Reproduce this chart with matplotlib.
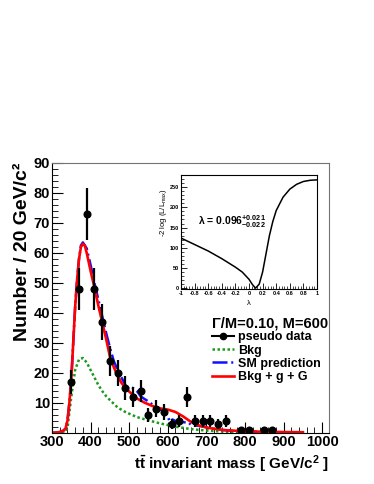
import matplotlib
matplotlib.use('Agg')
import matplotlib.pyplot as plt
from matplotlib.lines import Line2D
import numpy as np

plt.rcParams['font.family'] = ['Liberation Sans', 'DejaVu Sans']
plt.rcParams['mathtext.fontset'] = 'custom'
plt.rcParams['mathtext.rm'] = 'Liberation Sans'
plt.rcParams['mathtext.bf'] = 'Liberation Sans:bold'
plt.rcParams['mathtext.it'] = 'Liberation Sans:italic'

# pseudo data (20 GeV bins)
data_mass = [350, 370, 390, 410, 430, 450, 470, 490, 510, 530, 550, 570, 590,
             610, 630, 650, 670, 690, 710, 730, 750, 790, 810, 850, 870]
data_count = [17, 48, 73, 48, 37, 24, 20, 15, 12, 14, 6, 8, 7,
              3, 4, 12, 4, 4, 4, 3, 4, 1, 1, 1, 1]

# Bkg + g + G (red)
sig_mass = [300, 320, 330, 335, 340, 345, 350, 355, 360, 365, 370, 375, 380, 385, 390,
            400, 410, 420, 430, 440, 450, 460, 470, 480, 490, 500, 520, 540, 560, 580,
            600, 620, 640, 660, 680, 700, 720, 740, 760, 800, 850, 900, 950]
sig_val = [0.0, 0.3, 0.8, 1.5, 4, 10, 18, 30, 42, 51, 58, 62, 63, 62.5, 60,
           54, 48.5, 42.5, 37, 31.5, 25.5, 22, 19, 16.7, 15, 13.8, 11.5, 10.1, 9, 8.2,
           7.8, 7.0, 5.5, 3.7, 2.5, 1.8, 1.4, 1.05, 0.85, 0.6, 0.4, 0.3, 0.25]

# SM prediction (blue)
sm_mass = [300, 320, 330, 335, 340, 345, 350, 355, 360, 365, 370, 375, 380, 390,
           400, 410, 420, 430, 440, 450, 460, 470, 480, 490, 495, 500, 510, 520, 530,
           540, 550, 560, 570, 580, 590, 600, 605, 612, 620, 640, 655, 660, 680, 700,
           705, 730, 740, 760, 800, 850, 900, 950]
sm_val = [0.0, 0.3, 0.8, 1.5, 4, 10, 18, 30, 42, 51, 58, 62.5, 63.5, 61.5,
          56, 50, 44.5, 39, 33.5, 28.5, 24, 21, 18.5, 16, 14.8, 15.5, 15, 14, 12.2,
          11.3, 10.5, 9.5, 8.5, 7.8, 7.5, 5.5, 3.8, 4.5, 4.0, 3.6, 3.4, 2.6, 2.4, 2.0,
          1.5, 1.4, 1.0, 0.8, 0.5, 0.35, 0.25, 0.2]

# Bkg (green)
bkg_mass = [300, 330, 340, 350, 360, 370, 380, 390, 400, 410, 420, 430, 440, 450,
            470, 490, 520, 550, 580, 620, 660, 700, 750, 800, 850, 900, 950]
bkg_val = [0, 0, 1.5, 12, 21, 24.5, 25, 23.5, 21, 18.5, 16, 14, 12.3, 11,
           8.5, 7, 5.3, 4.2, 3.2, 2.1, 1.3, 0.8, 0.4, 0.2, 0.1, 0.05, 0.0]

# likelihood scan (inset)
lam = [-1, -0.8, -0.6, -0.4, -0.2, -0.1, 0, 0.05, 0.096, 0.15, 0.2, 0.25, 0.3,
       0.35, 0.4, 0.5, 0.6, 0.7, 0.8, 0.9, 1.0]
nll = [124, 108, 92, 73, 52, 40, 22, 9, 0, 10, 40, 85, 130,
       165, 192, 225, 245, 257, 264, 267, 268]

x_ticks = [300, 400, 500, 600, 700, 800, 900, 1000]
y_ticks = [10, 20, 30, 40, 50, 60, 70, 80, 90]
inset_xticks = [-1, -0.8, -0.6, -0.4, -0.2, 0, 0.2, 0.4, 0.6, 0.8, 1]
inset_xlabels = ['-1', '-0.8', '-0.6', '-0.4', '-0.2', '0', '0.2', '0.4', '0.6', '0.8', '1']
inset_yticks = [0, 50, 100, 150, 200, 250]

fig = plt.figure(figsize=(3.74, 4.84), dpi=100)
ax = fig.add_axes([0.139, 0.1054, 0.741, 0.558])

l_bkg, = ax.plot(bkg_mass, bkg_val, color='#1a9a1a', lw=1.8, ls=(0, (1, 1)))
l_sm, = ax.plot(sm_mass, sm_val, color='#1010ff', lw=1.8, ls=(0, (6, 1.5, 0.8, 1.5)))
l_sig, = ax.plot(sig_mass, sig_val, color='#ff0000', lw=1.9)
ax.errorbar(data_mass, data_count, yerr=np.sqrt(data_count), xerr=7, fmt='o',
            color='black', ms=4.8, elinewidth=1.6, capsize=0, zorder=5)

ax.set_xlim(300, 1018)
ax.set_ylim(0, 90)
ax.set_xticks(x_ticks)
ax.set_xticks(np.arange(300, 1020, 20), minor=True)
ax.set_yticks(y_ticks)
ax.set_yticks(np.arange(0, 91, 2), minor=True)
ax.tick_params(which='both', direction='in', top=False, right=False)
ax.tick_params(which='major', length=8, width=0.8, labelsize=10.5, pad=1.5)
ax.tick_params(which='minor', length=4, width=0.6)
for lab in ax.get_xticklabels() + ax.get_yticklabels():
    lab.set_fontweight('bold')
for s in ['top', 'right']:
    ax.spines[s].set_color('0.45')

ax.set_ylabel('Number / 20 GeV/c²', fontsize=14, fontweight='bold', loc='top')
ax.yaxis.set_label_coords(-0.075, 1.0)
ax.set_xlabel(r'$\mathbf{t\bar{t}}$ invariant mass [ GeV/c$^\mathbf{2}$ ]',
              fontsize=11, fontweight='bold', loc='right')
ax.xaxis.set_label_coords(1.0, -0.075)

data_handle = Line2D([], [], color='black', marker='o', ms=4.5, lw=1.5)
leg = ax.legend([data_handle, l_bkg, l_sm, l_sig],
                ['pseudo data', 'Bkg', 'SM prediction', 'Bkg + g + G'],
                title='Γ/M=0.10, M=600', alignment='left',
                title_fontproperties={'size': 10.5, 'weight': 'bold'},
                prop={'size': 9, 'weight': 'bold'}, frameon=False,
                loc='upper left', bbox_to_anchor=(0.566, 0.347),
                bbox_transform=fig.transFigure, borderpad=0, borderaxespad=0,
                handlelength=1.75, handletextpad=0.35, labelspacing=0.1)

# inset: likelihood scan
ax2 = fig.add_axes([0.484, 0.4029, 0.3636, 0.2355])
ax2.plot(lam, nll, color='black', lw=1.1)
ax2.set_xlim(-1, 1)
ax2.set_ylim(-2, 280)
ax2.set_xticks(inset_xticks)
ax2.set_xticklabels(inset_xlabels)
ax2.set_xticks(np.arange(-1, 1.001, 0.04), minor=True)
ax2.set_yticks(inset_yticks)
ax2.set_yticks(np.arange(0, 281, 10), minor=True)
ax2.tick_params(which='both', direction='in', top=False, right=False)
ax2.tick_params(which='major', length=4, width=0.6, labelsize=4, pad=1.5)
ax2.tick_params(which='minor', length=2, width=0.5)
for lab in ax2.get_xticklabels() + ax2.get_yticklabels():
    lab.set_fontweight('bold')
ax2.set_ylabel(r'-2 log (L/L$_{\mathrm{max}}$)', fontsize=5.5, loc='top')
ax2.yaxis.set_label_coords(-0.09, 0.88)
ax2.set_xlabel('λ', fontsize=5.5)
ax2.xaxis.set_label_coords(0.5, -0.1)
ax2.text(-0.75, 164, r'λ = 0.096$^{\mathbf{+0.021}}_{\mathbf{-0.022}}$',
         fontsize=7.5, fontweight='bold', va='center')

fig.savefig('out.png', dpi=100)
